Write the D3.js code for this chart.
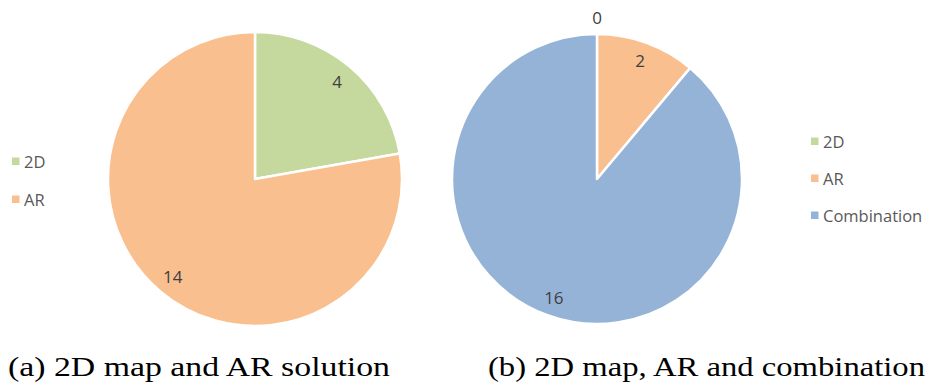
<!DOCTYPE html>
<html>
<head>
<meta charset="utf-8">
<script src="https://cdn.jsdelivr.net/npm/d3@7"></script>
<style>
  html, body { margin: 0; padding: 0; background: #fff; }
  svg { display: block; }
</style>
</head>
<body>
<svg id="chart" width="928" height="387"></svg>
<script>
// Survey answers: which navigation solution participants preferred
const categoriesA = ["2D", "AR"];
const valuesA = [4, 14];
const captionA = "(a) 2D map and AR solution";

const categoriesB = ["2D", "AR", "Combination"];
const valuesB = [0, 2, 16];
const captionB = "(b) 2D map, AR and combination";

const colors = { "2D": "#C5D89D", "AR": "#F9BF8F", "Combination": "#95B3D7" };

const svg = d3.select("#chart");
const labelFont = "'Open Sans', 'DejaVu Sans', sans-serif";

function drawPie(cats, vals, cx, cy, r) {
  const data = cats.map((c, i) => ({ cat: c, value: vals[i] }));
  const pie = d3.pie().value(d => d.value).sort(null);
  const arcs = pie(data);
  const arc = d3.arc().innerRadius(0).outerRadius(r);
  const labelArc = d3.arc().innerRadius(r * 0.87).outerRadius(r * 0.87);
  const outerArc = d3.arc().innerRadius(r + 17).outerRadius(r + 17);

  const g = svg.append("g").attr("transform", `translate(${cx},${cy})`);
  g.selectAll("path.slice")
    .data(arcs)
    .join("path")
    .attr("class", "slice")
    .attr("d", arc)
    .attr("fill", d => colors[d.data.cat])
    .attr("stroke", "#fff")
    .attr("stroke-width", 2.5)
    .attr("stroke-linejoin", "round");

  g.selectAll("text.val")
    .data(arcs)
    .join("text")
    .attr("class", "val")
    .attr("transform", d => {
      const p = d.value === 0 ? outerArc.centroid(d) : labelArc.centroid(d);
      return `translate(${p[0]},${p[1]})`;
    })
    .attr("text-anchor", "middle")
    .attr("dominant-baseline", "central")
    .attr("font-family", labelFont)
    .attr("font-size", 17)
    .attr("fill", "#404040")
    .text(d => d.data.value);
}

function drawLegend(cats, x, y, step) {
  const g = svg.append("g").attr("transform", `translate(${x},${y})`);
  const items = g.selectAll("g.item")
    .data(cats)
    .join("g")
    .attr("class", "item")
    .attr("transform", (d, i) => `translate(0,${i * step})`);
  items.append("rect")
    .attr("x", 0).attr("y", -3.5)
    .attr("width", 7.5).attr("height", 7.5)
    .attr("fill", d => colors[d]);
  items.append("text")
    .attr("x", 12)
    .attr("y", 0)
    .attr("dominant-baseline", "central")
    .attr("font-family", labelFont)
    .attr("font-size", 16.5)
    .attr("fill", "#595959")
    .text(d => d);
}

drawPie(categoriesA, valuesA, 255, 179, 147);
drawPie(categoriesB, valuesB, 597, 179, 145);

drawLegend(categoriesA, 12, 161, 38);
drawLegend(categoriesB, 811, 141, 37);

const capFont = "'Liberation Serif', 'DejaVu Serif', serif";
svg.append("text")
  .attr("x", 8).attr("y", 376)
  .attr("font-family", capFont)
  .attr("font-size", 28)
  .attr("fill", "#000")
  .attr("textLength", 382)
  .attr("lengthAdjust", "spacingAndGlyphs")
  .text(captionA);
svg.append("text")
  .attr("x", 488).attr("y", 376)
  .attr("font-family", capFont)
  .attr("font-size", 28)
  .attr("fill", "#000")
  .attr("textLength", 437)
  .attr("lengthAdjust", "spacingAndGlyphs")
  .text(captionB);
</script>
</body>
</html>
